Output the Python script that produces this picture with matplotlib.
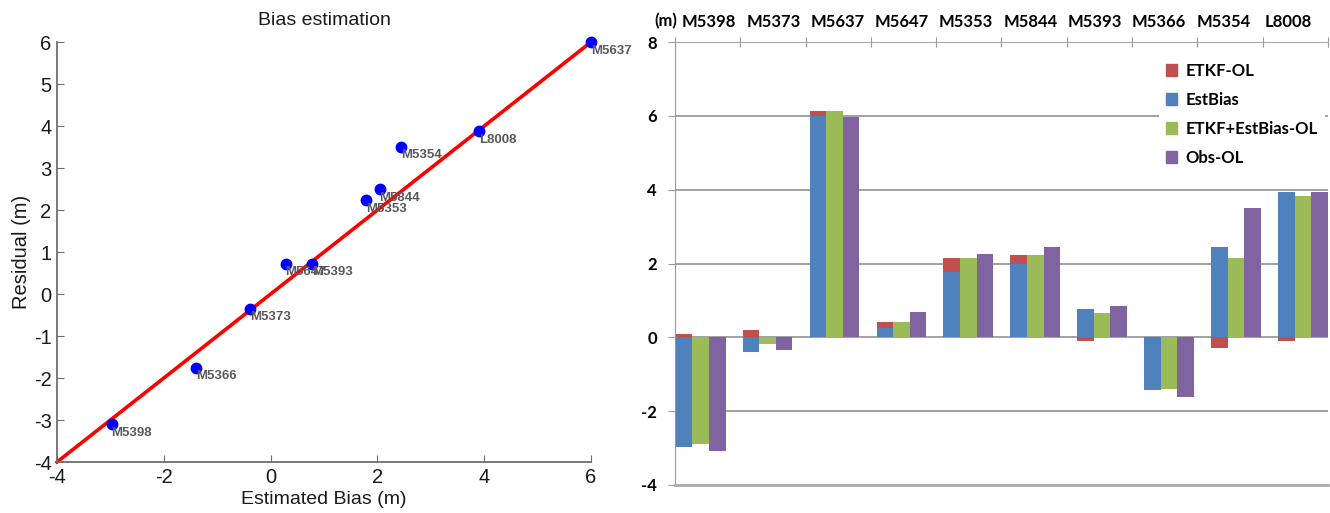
import numpy as np
import matplotlib
matplotlib.use("Agg")
import matplotlib.pyplot as plt
from matplotlib.patches import Patch

plt.rcParams["axes.unicode_minus"] = False

# 左图: 估计偏差 vs 残差
stations = ["M5637", "L8008", "M5354", "M5844", "M5353",
            "M5647", "M5393", "M5373", "M5366", "M5398"]
est_bias = [6.00, 3.91, 2.44, 2.04, 1.79, 0.28, 0.78, -0.38, -1.40, -2.98]
residual = [5.99, 3.87, 3.51, 2.50, 2.23, 0.72, 0.72, -0.35, -1.75, -3.10]

# 右图: 各站点柱状图
categories = ["M5398", "M5373", "M5637", "M5647", "M5353",
              "M5844", "M5393", "M5366", "M5354", "L8008"]
etkf_ol = [0.08, 0.19, 0.12, 0.16, 0.37, 0.24, -0.11, -0.02, -0.28, -0.11]
estbias = [-2.98, -0.39, 6.00, 0.25, 1.78, 2.00, 0.76, -1.42, 2.44, 3.93]
etkf_estbias_ol = [-2.89, -0.18, 6.12, 0.41, 2.15, 2.24, 0.66, -1.41, 2.16, 3.83]
obs_ol = [-3.07, -0.33, 5.96, 0.69, 2.27, 2.45, 0.84, -1.61, 3.51, 3.93]

c_red, c_blue, c_green, c_purple = "#C0504D", "#4F81BD", "#9BBB59", "#8064A2"

fig = plt.figure(figsize=(13.3, 5.13), dpi=100)

# ---------------- 左图 ----------------
ax1 = fig.add_axes([0.0429, 0.0994, 0.4015, 0.8187])
line = np.array([-4, 6])
ax1.plot(line, line, color="red", lw=2.6, zorder=2, clip_on=False)
ax1.plot(est_bias, residual, "o", color="blue", ms=7.5, zorder=3, clip_on=False)
for name, x, y in zip(stations, est_bias, residual):
    ax1.text(x, y - 0.06, name, ha="left", va="top", fontsize=9.5,
             fontweight="bold", color="#595959", family="Liberation Sans")
ax1.set_xlim(-4, 6)
ax1.set_ylim(-4, 6)
ax1.set_xticks(np.arange(-4, 7, 2))
ax1.set_yticks(np.arange(-4, 7, 1))
for s in ["top", "right"]:
    ax1.spines[s].set_visible(False)
for s in ["left", "bottom"]:
    ax1.spines[s].set_color("#6e6e6e")
    ax1.spines[s].set_linewidth(1.3)
ax1.tick_params(direction="in", length=5, color="#6e6e6e", labelsize=14.5,
                labelcolor="#1a1a1a", pad=4)
for lab in ax1.get_xticklabels() + ax1.get_yticklabels():
    lab.set_family("Liberation Sans")
ax1.set_xlabel("Estimated Bias (m)", fontsize=14, family="Liberation Sans",
               color="#1a1a1a", labelpad=3)
ax1.set_ylabel("Residual (m)", fontsize=14.5, family="Liberation Sans",
               color="#1a1a1a", labelpad=2)
ax1.set_title("Bias estimation", fontsize=14, family="Liberation Sans",
              color="#1a1a1a", pad=12)

# ---------------- 右图 ----------------
ax2 = fig.add_axes([0.5075, 0.0546, 0.491, 0.8635])
n = len(categories)
step = 1.0245
w = 0.254
left = 0.013 + step * np.arange(n)
est = np.array(estbias)
red = np.array(etkf_ol)
# ETKF-OL 叠加在 EstBias 上, 正负分开堆叠
red_bottom = np.where(np.sign(red) == np.sign(est), est, 0.0)

ax2.bar(left, est, width=w, align="edge", color=c_blue, zorder=3)
ax2.bar(left, red, width=w, bottom=red_bottom, align="edge", color=c_red, zorder=3)
ax2.bar(left + w, etkf_estbias_ol, width=w, align="edge", color=c_green, zorder=3)
ax2.bar(left + 2 * w, obs_ol, width=w, align="edge", color=c_purple, zorder=3)

ax2.set_xlim(0, n)
ax2.set_ylim(-4, 8)
for yv in [6, 4, 2, 0, -2]:
    ax2.axhline(yv, color="#9a9a9a", lw=1.3, zorder=1)
ax2.spines["right"].set_visible(False)
ax2.spines["top"].set_color("#aaaaaa")
ax2.spines["top"].set_linewidth(0.8)
ax2.spines["left"].set_color("#999999")
ax2.spines["left"].set_linewidth(0.8)
ax2.spines["bottom"].set_color("#aaaaaa")
ax2.spines["bottom"].set_linewidth(2.0)

ax2.set_yticks(np.arange(-4, 9, 2))
ax2.tick_params(axis="y", direction="out", length=5, color="#999999",
                labelsize=12, pad=8)
for lab in ax2.get_yticklabels():
    lab.set_fontweight("bold")
    lab.set_family("Lato")

ax2.xaxis.tick_top()
ax2.set_xticks(np.arange(0, n + 1))
ax2.set_xticklabels([])
ax2.tick_params(axis="x", which="major", direction="inout", length=7,
                color="#999999", width=0.8)
ax2.set_xticks(np.arange(n) * 0.985 + 0.52, minor=True)
ax2.set_xticklabels(categories, minor=True, fontsize=12, fontweight="bold",
                    family="Lato")
ax2.tick_params(axis="x", which="minor", length=0, pad=9)
ax2.annotate("(m)", xy=(0, 1), xycoords="axes fraction", xytext=(1.5, 9),
             textcoords="offset points", ha="right", va="bottom",
             fontsize=12, fontweight="bold", family="Lato")

handles = [Patch(color=c_red), Patch(color=c_blue),
           Patch(color=c_green), Patch(color=c_purple)]
leg = ax2.legend(handles, ["ETKF-OL", "EstBias", "ETKF+EstBias-OL", "Obs-OL"],
                 loc="upper right", bbox_to_anchor=(1.0, 0.975), frameon=True,
                 fancybox=False, edgecolor="none", facecolor="white", framealpha=1,
                 handlelength=0.7, handleheight=0.7, handletextpad=0.5,
                 labelspacing=0.78, borderaxespad=0.2,
                 prop={"family": "Lato", "weight": "bold", "size": 12})
leg.set_zorder(5)

fig.savefig("out.png", dpi=100)
